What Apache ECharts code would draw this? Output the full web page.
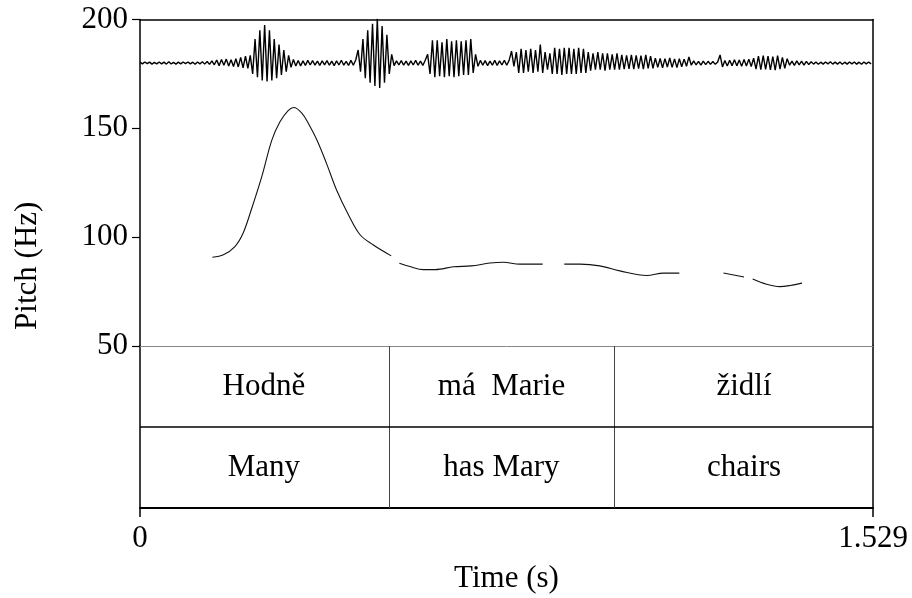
<!DOCTYPE html>
<html>
<head>
<meta charset="utf-8">
<script src="https://cdn.jsdelivr.net/npm/echarts@6/dist/echarts.min.js"></script>
<style>
html,body{margin:0;padding:0;background:#fff;}
#chart{width:912px;height:598px;}
</style>
</head>
<body>
<div id="chart"></div>
<script>
// ---- data ----
var timeMin = 0;
var timeMax = 1.529;
var pitchTicks = [50, 100, 150, 200];
var timeTicks = [0, 1.529];

// pitch contour (s, Hz); null = unvoiced gap
var pitchTime = [0.151,0.174,0.198,0.215,0.232,0.254,0.275,0.292,0.309,0.321,0.338,0.351,0.369,0.389,0.410,0.435,0.459,0.486,0.524, null,
  0.541,0.563,0.591,0.616,0.654,0.691,0.730,0.758,0.792,0.840, null,
  0.885,0.918,0.959,1.001,1.057,1.092,1.125, null,
  1.217,1.260, null,
  1.278,1.307,1.335,1.356,1.381];
var pitchHz = [90.8,91.9,95.7,101.8,112.5,127.8,144.6,153.0,158.1,159.6,156.9,152.3,144.6,133.9,121.7,110.2,101.1,96.5,91.4, null,
  88.0,86.5,85.1,85.1,86.4,86.8,88.1,88.5,87.6,87.6, null,
  87.6,87.6,86.8,84.5,82.4,83.5,83.5, null,
  83.5,81.7, null,
  80.8,78.4,77.3,77.8,78.9];

// waveform (drawn on pitch scale around a baseline), one sample every waveStep s
var waveBaseline = 180;
var waveStep = 0.005;
var wave = [
  0.4,-0.4,0.5,-0.3,0.4,-0.5,0.3,-0.4,0.5,-0.4,
  0.4,-0.5,0.6,-0.4,0.3,-0.5,0.4,-0.4,0.5,-0.3,
  0.5,-0.4,0.4,-0.6,0.5,-0.4,0.6,-0.5,0.7,-0.6,
  1.0,-0.8,1.4,-1.2,1.6,-1.0,1.8,-1.4,1.5,-1.6,
  2.0,-1.8,2.6,-2.2,3.2,-2.5,
  3.5,-5,11,-6.5,15,-8,17.5,-8.5,15,-8,11,-7,8.5,-5.5,6,-4,3.5,
  -2.0,1.6,-1.4,1.2,-1.3,1.0,-1.1,
  1.2,-0.9,1.1,-1.0,0.9,-1.1,1.0,-0.8,1.1,-1.0,
  0.9,-1.2,1.0,-0.9,1.3,-1.0,0.8,-1.1,1.2,-1.0,1.4,
  6,-4,11,-7,15,-9,18,-10.5,20.5,-11.5,17,-9,13,-5,4,
  -1.2,1.0,-0.9,1.1,-1.0,0.9,-1.1,1.0,-0.9,1.2,-1.0,0.9,-1.1,1.3,
  4,-5,10.5,-6.5,10.5,-6,9.5,-6.5,11,-6,10,-6.5,10.5,-6,10,-5.5,10.5,-5.5,11,-4.5,4,
  -1.5,1.2,-1.0,1.1,-1.2,0.9,-1.0,1.2,-1.1,1.0,-0.9,1.3,-1.0,1.2,5.5,-1.5,5.0,
  -4.5,6.5,-4.5,6,-4,6.5,-4.5,6,
  -4,8.5,-4.5,5,-3,4.5,
  -5,7,-5,6.5,-5.5,7,-5,7,-5,6.5,-5,7,-4.5,6.5,-4.5,
  5,-3.5,4.5,-3,5,-3,4.5,-3.5,4.5,-3,4,-3,4.5,-3,
  3.7,-2.8,3.5,-2.7,3.8,-2.8,3.5,-2.6,3.4,-2.8,3.7,-2.5,3.2,-2.4,
  2.2,-2.0,2.1,-2.2,2.0,-1.8,2.3,-2.0,1.9,-2.1,2.0,-1.7,1.8,-1.5,
  2.8,-1.0,1.0,-0.9,0.8,-1.0,0.9,-0.7,0.8,-0.6,0.7,-0.6,0.5,
  3.7,-1.8,1.2,-1.4,1.3,-1.2,1.5,-1.3,1.4,-1.5,1.6,-1.4,1.8,-1.6,2.2,
  -2.8,3.2,-3,3.4,-2.9,3.2,-3.2,3,-3.3,3.4,-2.8,2.6,-2.4,2.0,
  -1.0,0.9,-1.1,1.0,-0.8,0.9,-1.0,0.8,-0.7,0.6,
  -0.5,0.5,-0.6,0.4,-0.5,0.5,-0.4,0.6,-0.5,0.4,-0.5,0.5,-0.6,0.4,-0.5,0.5,-0.4,0.5,-0.5,0.4,-0.6,0.5,-0.4,0.5,-0.4
];

// text tiers
var tierBounds = [0.517, 0.991];
var tierStarts = [0, 0.517, 0.991];
var tierEnds = [0.517, 0.991, 1.529];
var tier1Words = ['Hodně', 'má  Marie', 'židlí'];
var tier2Words = ['Many', 'has Mary', 'chairs'];

// ---- build ----
var FONT = '"Liberation Serif", "Times New Roman", serif';
var FS = 31;

var waveData = wave.map(function (v, i) { return [i * waveStep, waveBaseline + v]; });
var pitchData = pitchTime.map(function (t, i) { return t === null ? [null, null] : [t, pitchHz[i]]; });
var wordData = [];
for (var k = 0; k < tier1Words.length; k++) {
  var mid = (tierStarts[k] + tierEnds[k]) / 2;
  wordData.push([mid, 1.5, tier1Words[k]]);
  wordData.push([mid, 0.5, tier2Words[k]]);
}

var chart = echarts.init(document.getElementById('chart'), null, {renderer: 'canvas'});
chart.setOption({
  animation: false,
  backgroundColor: '#fff',
  grid: [
    {left: 140, right: 39, top: 19.5, height: 326.5},
    {left: 140, right: 39, top: 346, height: 162}
  ],
  xAxis: [
    {gridIndex: 0, type: 'value', min: timeMin, max: timeMax, position: 'bottom',
      axisLine: {onZero: false, lineStyle: {color: '#888', width: 1}},
      axisTick: {show: false}, axisLabel: {show: false}, splitLine: {show: false}},
    {gridIndex: 0, type: 'value', min: timeMin, max: timeMax, position: 'top',
      axisLine: {onZero: false, lineStyle: {color: '#000', width: 1.5}},
      axisTick: {show: false}, axisLabel: {show: false}, splitLine: {show: false}},
    {gridIndex: 1, type: 'value', min: timeMin, max: timeMax, position: 'bottom',
      axisLine: {onZero: false, lineStyle: {color: '#000', width: 2}},
      axisTick: {show: true, customValues: timeTicks, length: 9, lineStyle: {color: '#000', width: 1.5}},
      axisLabel: {show: true, customValues: timeTicks, margin: 15, color: '#000', fontFamily: FONT, fontSize: FS,
        formatter: function (v) { return String(v); }},
      splitLine: {show: false},
      name: 'Time (s)', nameLocation: 'middle', nameGap: 55,
      nameTextStyle: {color: '#000', fontFamily: FONT, fontSize: FS}}
  ],
  yAxis: [
    {gridIndex: 0, type: 'value', min: 50, max: 200, interval: 50, position: 'left',
      axisLine: {onZero: false, lineStyle: {color: '#000', width: 1.5}},
      axisTick: {show: true, length: 8, lineStyle: {color: '#000', width: 1.2}},
      axisLabel: {show: true, margin: 12, color: '#000', fontFamily: FONT, fontSize: FS},
      splitLine: {show: false},
      name: 'Pitch (Hz)', nameLocation: 'middle', nameGap: 97,
      nameTextStyle: {color: '#000', fontFamily: FONT, fontSize: FS, padding: [0, 166, 0, 0]}},
    {gridIndex: 0, type: 'value', min: 50, max: 200, position: 'right',
      axisLine: {onZero: false, lineStyle: {color: '#000', width: 1.5}},
      axisTick: {show: false}, axisLabel: {show: false}, splitLine: {show: false}},
    {gridIndex: 1, type: 'value', min: 0, max: 2, position: 'left',
      axisLine: {onZero: false, lineStyle: {color: '#000', width: 1.5}},
      axisTick: {show: false}, axisLabel: {show: false}, splitLine: {show: false}},
    {gridIndex: 1, type: 'value', min: 0, max: 2, position: 'right',
      axisLine: {onZero: false, lineStyle: {color: '#000', width: 1.5}},
      axisTick: {show: false}, axisLabel: {show: false}, splitLine: {show: false}}
  ],
  series: [
    {type: 'line', xAxisIndex: 0, yAxisIndex: 0, data: waveData, symbol: 'none',
      lineStyle: {color: '#000', width: 1.4}, silent: true, z: 3},
    {type: 'line', xAxisIndex: 0, yAxisIndex: 0, data: pitchData, symbol: 'none', smooth: 0.35,
      connectNulls: false, lineStyle: {color: '#111', width: 1.1}, silent: true, z: 3},
    {type: 'scatter', xAxisIndex: 2, yAxisIndex: 2, data: wordData, symbolSize: 0.01, silent: true,
      itemStyle: {opacity: 1},
      label: {show: true, position: 'inside', color: '#000', opacity: 1, fontFamily: FONT, fontSize: FS,
        formatter: function (p) { return p.value[2]; }},
      markLine: {silent: true, symbol: 'none', label: {show: false}, animation: false,
        data: [
          {xAxis: tierBounds[0], lineStyle: {color: '#444', width: 1, type: 'solid'}},
          {xAxis: tierBounds[1], lineStyle: {color: '#444', width: 1, type: 'solid'}},
          {yAxis: 1, lineStyle: {color: '#000', width: 1.5, type: 'solid'}}
        ]}}
  ]
});
</script>
</body>
</html>
